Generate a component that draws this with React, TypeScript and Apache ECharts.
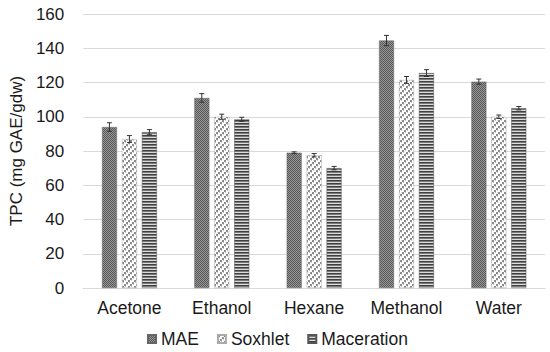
import React, { useEffect, useRef } from "react";
import * as echarts from "echarts";

const categories = ["Acetone", "Ethanol", "Hexane", "Methanol", "Water"];
const seriesNames = ["MAE", "Soxhlet", "Maceration"];
const maeValues = [94, 111, 79, 144.5, 120.5];
const soxhletValues = [87, 100, 77.5, 121.5, 100];
const macerationValues = [91, 98.5, 70, 125.5, 105];
const maeErrors = [2.5, 2.5, 0.5, 3, 1.5];
const soxhletErrors = [2, 1.5, 1, 2, 1];
const macerationErrors = [1.5, 1.2, 1, 2, 1];
const yTicks = [0, 20, 40, 60, 80, 100, 120, 140, 160];

function makeCanvas(w: number, h: number, draw: (ctx: CanvasRenderingContext2D) => void) {
  const c = document.createElement("canvas");
  c.width = w;
  c.height = h;
  const ctx = c.getContext("2d")!;
  draw(ctx);
  return c;
}

export default function App() {
  const ref = useRef<HTMLDivElement>(null);
  useEffect(() => {
    if (!ref.current) return;
    document.body.style.margin = "0";
    const chart = echarts.init(ref.current, undefined, { renderer: "svg" });

    const maeCanvas = makeCanvas(2, 2, (ctx) => {
      ctx.fillStyle = "#959595";
      ctx.fillRect(0, 0, 2, 2);
      ctx.fillStyle = "#5a5a5a";
      ctx.fillRect(0, 0, 1, 1);
      ctx.fillRect(1, 1, 1, 1);
    });
    const soxCanvas = makeCanvas(6, 6, (ctx) => {
      ctx.fillStyle = "#ffffff";
      ctx.fillRect(0, 0, 6, 6);
      ctx.fillStyle = "#8c8c8c";
      for (let i = 0; i < 6; i += 2) {
        const x = (6 - i) % 6;
        ctx.fillRect(x, i, 2, 2);
      }
      ctx.fillStyle = "#c4c4c4";
      for (let i = 0; i < 6; i += 2) {
        const x = (9 - i) % 6;
        ctx.fillRect(x, i, 1, 1);
      }
    });
    const macCanvas = makeCanvas(4, 3, (ctx) => {
      ctx.fillStyle = "#404040";
      ctx.fillRect(0, 0, 4, 1);
      ctx.fillStyle = "#7a7a7a";
      ctx.fillRect(0, 1, 4, 1);
      ctx.fillStyle = "#dcdcdc";
      ctx.fillRect(0, 2, 4, 1);
    });

    const patterns = [maeCanvas, soxCanvas, macCanvas];
    const values = [maeValues, soxhletValues, macerationValues];
    const errors = [maeErrors, soxhletErrors, macerationErrors];
    const borders = ["#666666", "#aaaaaa", "#555555"];
    const barWidth = 15;
    const barGapPx = 5;
    const offsets = [-(barWidth + barGapPx), 0, barWidth + barGapPx];

    const barSeries = seriesNames.map((name, s) => ({
      name,
      type: "bar",
      data: values[s],
      barWidth,
      barGap: "33%",
      itemStyle: {
        color: { image: patterns[s], repeat: "repeat" },
        borderColor: borders[s],
        borderWidth: 0.5,
      },
    }));

    const errSeries = seriesNames.map((name, s) => ({
      name: name + "_err",
      type: "custom",
      silent: true,
      z: 5,
      data: values[s].map((v, i) => [i, v - errors[s][i], v + errors[s][i]]),
      renderItem: (params: any, api: any) => {
        const idx = api.value(0);
        const lo = api.coord([idx, api.value(1)]);
        const hi = api.coord([idx, api.value(2)]);
        const x = lo[0] + offsets[s];
        const cap = 2.5;
        const style = { stroke: "#333333", lineWidth: 1 };
        return {
          type: "group",
          children: [
            { type: "line", shape: { x1: x, y1: lo[1], x2: x, y2: hi[1] }, style },
            { type: "line", shape: { x1: x - cap, y1: lo[1], x2: x + cap, y2: lo[1] }, style },
            { type: "line", shape: { x1: x - cap, y1: hi[1], x2: x + cap, y2: hi[1] }, style },
          ],
        };
      },
      encode: { x: 0, y: [1, 2] },
    }));

    const font = "'Liberation Sans', Arial, sans-serif";
    chart.setOption({
      animation: false,
      backgroundColor: "#ffffff",
      textStyle: { fontFamily: font },
      grid: { left: 82, right: 5, top: 14, bottom: 64 },
      legend: {
        data: seriesNames,
        left: 142,
        top: 325,
        icon: "rect",
        itemWidth: 8,
        itemHeight: 8,
        itemGap: 18,
        textStyle: { fontFamily: font, fontSize: 17.5, color: "#1a1a1a" },
      },
      xAxis: {
        type: "category",
        data: categories,
        axisLine: { show: true, lineStyle: { color: "#d9d9d9" } },
        axisTick: { show: false },
        axisLabel: {
          fontFamily: font,
          fontSize: 17.5,
          color: "#1a1a1a",
          margin: 11,
          interval: 0,
          hideOverlap: false,
        },
      },
      yAxis: {
        type: "value",
        min: yTicks[0],
        max: yTicks[yTicks.length - 1],
        interval: 20,
        name: "TPC (mg GAE/gdw)",
        nameLocation: "middle",
        nameGap: 58,
        nameTextStyle: { fontFamily: font, fontSize: 17, color: "#1a1a1a" },
        axisLine: { show: false },
        axisTick: { show: false },
        splitLine: { lineStyle: { color: "#d9d9d9" } },
        axisLabel: { fontFamily: font, fontSize: 17, color: "#1a1a1a", margin: 19 },
      },
      series: [...barSeries, ...errSeries],
    } as any);
    return () => chart.dispose();
  }, []);
  return <div ref={ref} style={{ width: 550, height: 352 }} />;
}
